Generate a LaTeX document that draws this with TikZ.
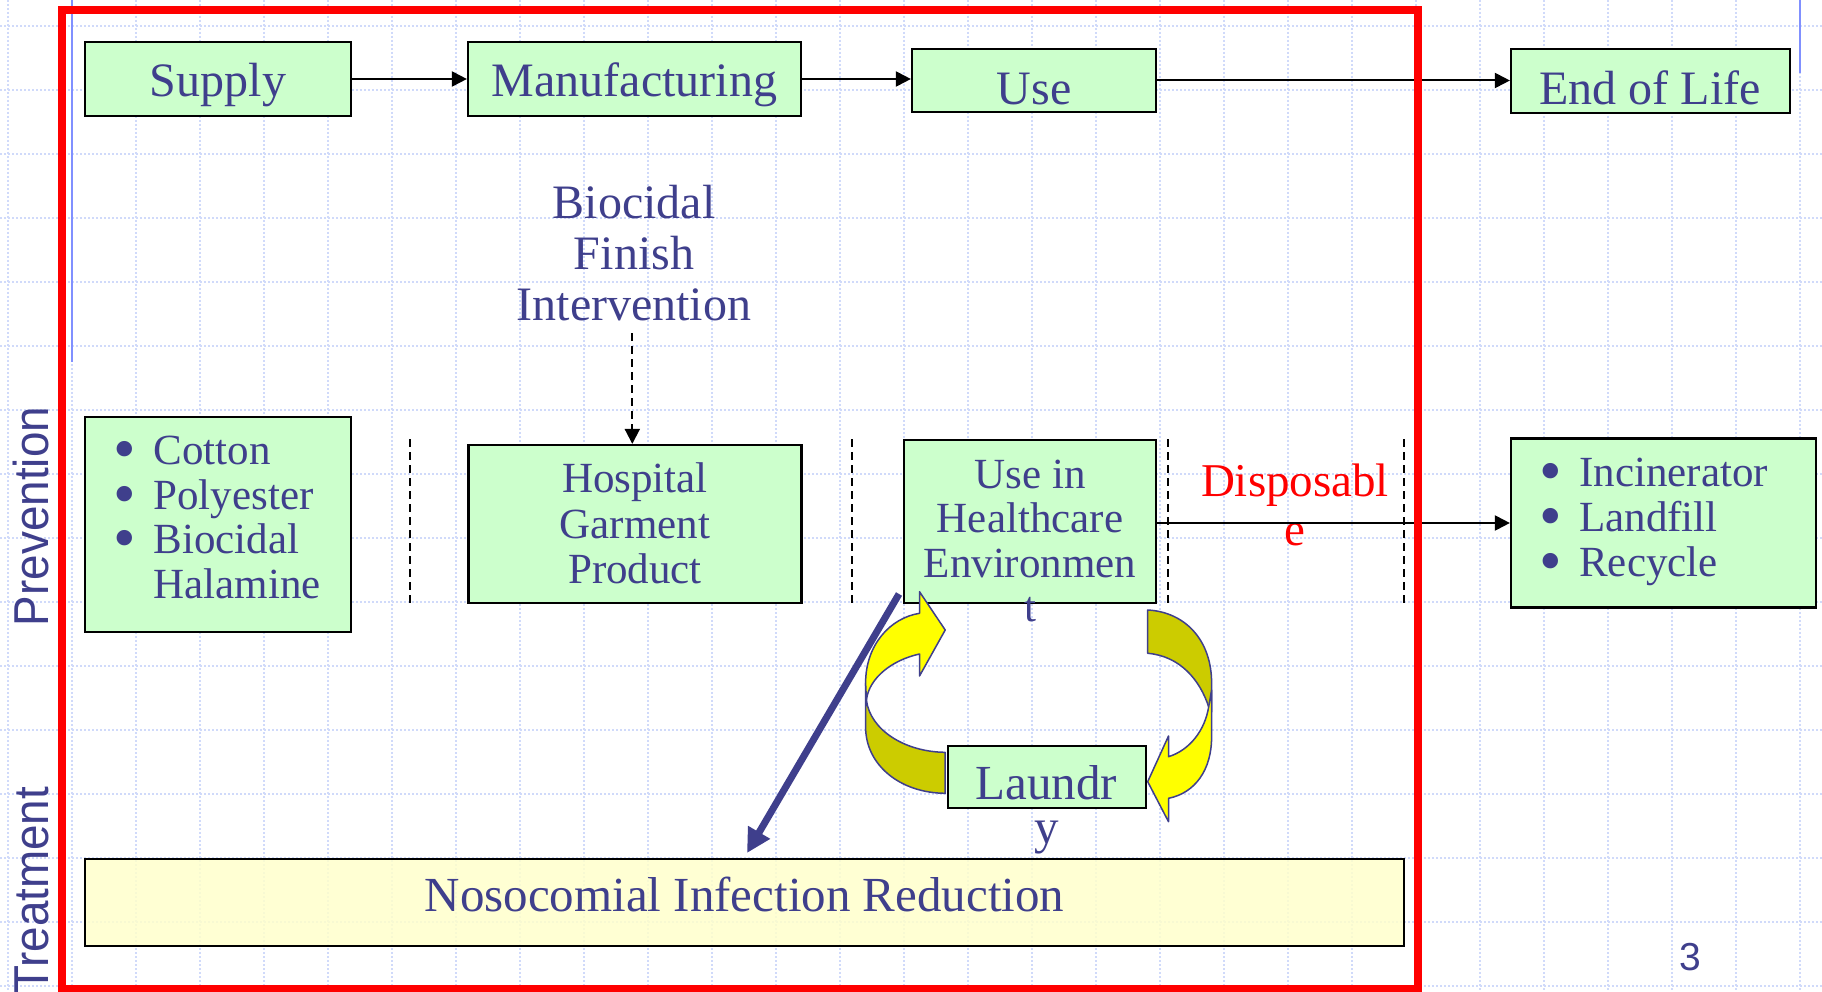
\documentclass[tikz,border=0pt]{standalone}
\usepackage{fontspec}
\usepackage{graphicx}
\setmainfont{Liberation Serif}
\setsansfont{Liberation Sans}
\usetikzlibrary{arrows.meta}
\definecolor{txtblue}{RGB}{63,63,140}
\definecolor{boxgreen}{RGB}{204,255,204}
\definecolor{boxyellow}{RGB}{255,255,204}
\definecolor{gridblue}{RGB}{208,218,250}
\definecolor{lineblue}{RGB}{128,144,255}
\definecolor{arrowyellow}{RGB}{255,255,0}
\definecolor{arrowolive}{RGB}{204,204,0}
\newcommand{\fsz}[2]{\fontsize{#1}{#2}\selectfont}
\newcommand{\bigbul}{\smash{\raisebox{-6pt}{\scalebox{1.5}{•}}}}
\begin{document}
\begin{tikzpicture}[x=1pt,y=-1pt,
  greenbox/.style={draw=black,line width=2.2pt,fill=boxgreen,inner sep=0pt},
  lbl/.style={text=txtblue,inner sep=0pt,anchor=base},
  flow/.style={black,line width=2pt,-{Triangle[length=15pt,width=15pt]}},
  sepline/.style={black,line width=2pt,dash pattern=on 8pt off 5pt},
  gridline/.style={gridblue,line width=1.2pt,dash pattern=on 2pt off 2pt},
  ribbon/.style={draw=txtblue,line width=1.5pt,line join=round}]
\useasboundingbox (0,0) rectangle (1822,992);
\fill[white] (0,0) rectangle (1822,992);
\foreach \yy in {26,90,...,986} \draw[gridline] (0,\yy) -- (1822,\yy);
\foreach \xx in {8,72,...,1800} \draw[gridline] (\xx,0) -- (\xx,992);
\draw[lineblue,line width=2pt] (72,0) -- (72,362);
\draw[lineblue,line width=2pt] (1800,0) -- (1800,73);

% top row
\node[greenbox,minimum width=266pt,minimum height=74pt] (supply) at (218,79) {};
\node[greenbox,minimum width=333pt,minimum height=74pt] (manu) at (634.5,79) {};
\node[greenbox,minimum width=244pt,minimum height=63pt] (use) at (1034,80.5) {};
\node[greenbox,minimum width=279pt,minimum height=64pt] (eol) at (1650.5,81) {};
\node[lbl,font=\fsz{48}{51}] (supplyt) at (218,96.7) {Supply};
\node[lbl,font=\fsz{48}{51}] (manut) at (634.5,96.7) {Manufacturing};
\node[lbl,font=\fsz{48}{51}] (uset) at (1034,104.5) {Use};
\node[lbl,font=\fsz{48}{51}] (eolt) at (1650,104.5) {End of Life};
\draw[flow] (supply.east) -- (manu.west);
\draw[flow] (manu.east) -- (manu.east -| use.west);
\draw[flow] (use.east) -- (use.east -| eol.west);

% biocidal intervention
\node[lbl,font=\fsz{48}{51}] (bio) at (634,218.3) {\begin{tabular}[t]{@{}c@{}}Biocidal\\Finish\\Intervention\end{tabular}};
\coordinate (dstart) at (632.3,333);

% middle row
\node[greenbox,minimum width=266pt,minimum height=215pt] (cotton) at (218,524.5) {};
\node[lbl,anchor=base west,font=\fsz{43}{44.7}] (cottont) at (113.7,464.3) {\begin{tabular}[t]{@{}l@{\hspace{17pt}}l@{}}\bigbul&Cotton\\\bigbul&Polyester\\\bigbul&Biocidal\\&Halamine\end{tabular}};
\node[greenbox,minimum width=333pt,minimum height=158pt] (hosp) at (635,524) {};
\node[lbl,font=\fsz{43}{45.3}] (hospt) at (635,492.7) {\begin{tabular}[t]{@{}c@{}}Hospital\\Garment\\Product\end{tabular}};
\draw[flow,dash pattern=on 8pt off 5pt] (dstart) -- (dstart |- hosp.north);
\node[greenbox,minimum width=252pt,minimum height=163pt] (usehc) at (1030,521.5) {};
\node[lbl,font=\fsz{43}{44.5}] (usehct) at (1030,488.3) {\begin{tabular}[t]{@{}c@{}}Use in\\Healthcare\\Environmen\\t\end{tabular}};
\node[greenbox,minimum width=305pt,minimum height=169pt] (incin) at (1663.5,523) {};
\node[lbl,anchor=base west,font=\fsz{43}{45}] (incint) at (1539.5,486) {\begin{tabular}[t]{@{}l@{\hspace{17pt}}l@{}}\bigbul&Incinerator\\\bigbul&Landfill\\\bigbul&Recycle\end{tabular}};
\node[lbl,text=red,font=\fsz{47}{48.3}] (disp) at (1295,496.7) {\begin{tabular}[t]{@{}c@{}}Disposabl\\e\end{tabular}};
\draw[flow] (usehc.east |- incin.west) -- (incin.west);

% separators
\draw[sepline] (410,439) -- (410,603);
\draw[sepline] (852,439) -- (852,603);
\draw[sepline] (1168,439) -- (1168,603);
\draw[sepline] (1404,439) -- (1404,603);

% laundry
\node[greenbox,minimum width=198pt,minimum height=62pt] (laundry) at (1047,777) {};
\node[lbl,font=\fsz{49}{44}] (laundryt) at (1046.5,799) {\begin{tabular}[t]{@{}c@{}}Laundr\\y\end{tabular}};

% curved ribbon arrows
\path[ribbon,fill=arrowolive] (865.6,683) -- (865.6,727) .. controls (865.6,765) and (900,793) .. (945.2,793.3) -- (945.2,752.3) .. controls (905,752) and (870,730) .. (866.4,700) -- cycle;
\path[ribbon,fill=arrowyellow] (865.6,683) .. controls (865.6,645) and (890,618) .. (919.5,613.3) -- (919.5,591.7) -- (945.2,630) -- (919.5,676) -- (919.5,654) .. controls (892,660) and (869,678) .. (866.4,700) -- cycle;
\path[ribbon,fill=arrowolive] (1147.7,610) .. controls (1185,612) and (1211.6,640) .. (1211.6,683) -- (1211.6,712) -- (1208.7,707) .. controls (1200,680) and (1180,656) .. (1147.7,653.3) -- cycle;
\path[ribbon,fill=arrowyellow] (1211.6,690) -- (1211.6,737) .. controls (1211.6,770) and (1195,793) .. (1168.5,798.3) -- (1168.5,821.7) -- (1147.7,781.7) -- (1168.5,736) -- (1168.5,756.7) .. controls (1190,750) and (1205,730) .. (1208.7,706.7) -- cycle;

% bottom
\node[draw=black,line width=2.2pt,fill=boxyellow,fill opacity=0.85,minimum width=1319pt,minimum height=87pt,inner sep=0pt] (noso) at (744.5,902.5) {};
\node[lbl,font=\fsz{49}{51}] (nosot) at (744.5,911.7) {Nosocomial Infection Reduction};
\coordinate (bstart) at (899,594);
\coordinate (bend) at (747,853);
\draw[txtblue,line width=7pt,-{Triangle[length=24pt,width=24pt]}] (bstart) -- (bend);

% side labels
\node[lbl,font=\sffamily\fsz{49}{51},rotate=90] (prev) at (48,516.5) {\scalebox{0.935}[1]{Prevention}};
\node[lbl,font=\sffamily\fsz{49}{51},rotate=90] (treat) at (48,890.4) {\scalebox{0.935}[1]{Treatment}};
\node[lbl,font=\sffamily\fsz{39}{40}] (pagenum) at (1690.5,970) {3};

\draw[red,line width=8pt] (62,10) rectangle (1418,989);
\end{tikzpicture}
\end{document}
